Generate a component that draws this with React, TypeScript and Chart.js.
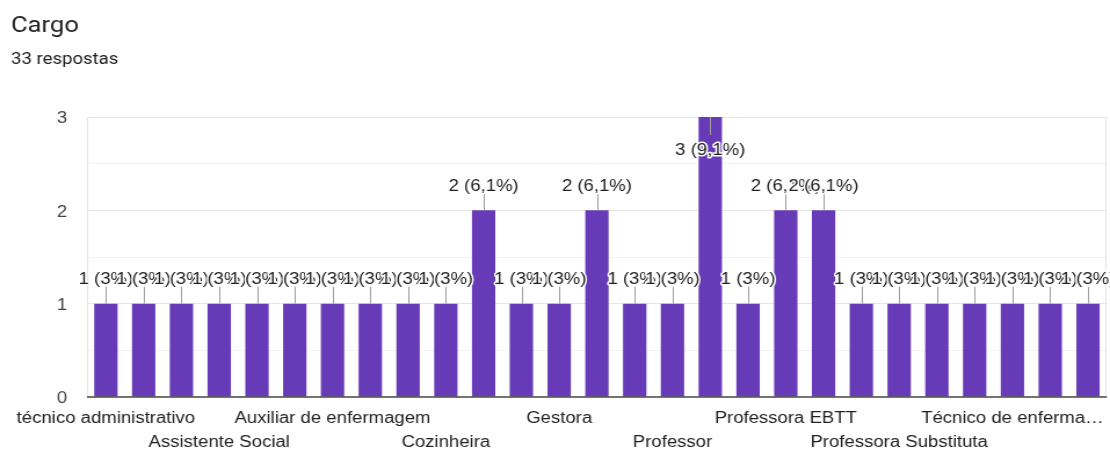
import React, { useEffect, useRef } from 'react';
import { Chart, registerables } from 'chart.js';

Chart.register(...registerables);

const titleText = 'Cargo';
const subtitleText = '33 respostas';

const categories = [
  'técnico administrativo',
  'Administrador',
  'Assistente em Administração',
  'Assistente Social',
  'Auxiliar Administrativo',
  'Auxiliar de Biblioteca',
  'Auxiliar de enfermagem',
  'Bibliotecária',
  'Coordenador',
  'Cozinheira',
  'Docente',
  'Enfermeira',
  'Gestora',
  'Nutricionista',
  'Pedagoga',
  'Professor',
  'Professora',
  'Professora de Educação Infantil',
  'Professora EBTT',
  'Professora Efetiva',
  'Professora Ensino Médio',
  'Professora Substituta',
  'Psicóloga',
  'Secretária',
  'Técnico de enfermagem',
  'Técnico em Assuntos Educacionais',
  'Tradutor e Intérprete de Libras',
];

const values = [1, 1, 1, 1, 1, 1, 1, 1, 1, 1, 2, 1, 1, 2, 1, 1, 3, 1, 2, 2, 1, 1, 1, 1, 1, 1, 1];

const xTickLabels = [
  'técnico administrativo', '', '',
  'Assistente Social', '', '',
  'Auxiliar de enfermagem', '', '',
  'Cozinheira', '', '',
  'Gestora', '', '',
  'Professor', '', '',
  'Professora EBTT', '', '',
  'Professora Substituta', '', '',
  'Técnico de enferma…', '', '',
];

const yTickValues = [0, 1, 2, 3];

const STRETCH = 1.16;
const OUT_W = 1110;
const OUT_H = 449;
const IN_W = Math.round(OUT_W / STRETCH);

const total = values.reduce((s, v) => s + v, 0);
const fmtLabel = (v: number) => {
  const p = Math.round((v / total) * 1000) / 10;
  return `${v} (${String(p).replace('.', ',')}%)`;
};

const decorPlugin = {
  id: 'decor',
  beforeDraw(chart: any) {
    const { ctx } = chart;
    ctx.save();
    ctx.fillStyle = '#ffffff';
    ctx.fillRect(0, 0, chart.width, chart.height);
    ctx.fillStyle = '#202124';
    ctx.textAlign = 'left';
    ctx.textBaseline = 'alphabetic';
    ctx.font = '22px Roboto';
    ctx.fillText(titleText, 9.5, 32);
    ctx.font = '16px Roboto';
    ctx.fillText(subtitleText, 9.5, 64);
    ctx.restore();
  },
  beforeDatasetsDraw(chart: any) {
    const { ctx, chartArea: a } = chart;
    ctx.save();
    ctx.strokeStyle = '#e6e6e6';
    ctx.lineWidth = 1;
    ctx.beginPath();
    const l = Math.round(a.left) + 0.5;
    const r = Math.round(a.right) - 0.5;
    ctx.moveTo(l, a.top);
    ctx.lineTo(l, a.bottom);
    ctx.moveTo(r, a.top);
    ctx.lineTo(r, a.bottom);
    ctx.stroke();
    ctx.restore();
  },
  afterDatasetsDraw(chart: any) {
    const { ctx, chartArea: a } = chart;
    const y0 = chart.scales.y.getPixelForValue(0);
    ctx.save();
    ctx.strokeStyle = '#444';
    ctx.lineWidth = 1.5;
    ctx.beginPath();
    ctx.moveTo(a.left, y0);
    ctx.lineTo(a.right, y0);
    ctx.stroke();

    const meta = chart.getDatasetMeta(0);
    ctx.font = '16px Arial, "Liberation Sans"';
    ctx.textAlign = 'center';
    ctx.textBaseline = 'alphabetic';
    ctx.lineJoin = 'round';
    meta.data.forEach((bar: any, i: number) => {
      const x = bar.x;
      const top = bar.y;
      const text = fmtLabel(values[i]);
      const inside = top - 34 < a.top;
      let baseY: number;
      ctx.strokeStyle = '#9e9e9e';
      ctx.lineWidth = 1;
      ctx.beginPath();
      if (inside) {
        ctx.moveTo(Math.round(x) + 0.5, top);
        ctx.lineTo(Math.round(x) + 0.5, top + 18);
        baseY = top + 37.5;
      } else {
        ctx.moveTo(Math.round(x) + 0.5, top);
        ctx.lineTo(Math.round(x) + 0.5, top - 17);
        baseY = top - 19.5;
      }
      ctx.stroke();
      ctx.strokeStyle = '#ffffff';
      ctx.lineWidth = 3;
      ctx.strokeText(text, x, baseY);
      ctx.fillStyle = '#222222';
      ctx.fillText(text, x, baseY);
    });
    ctx.restore();
  },
};

export default function App() {
  const ref = useRef<HTMLCanvasElement>(null);

  useEffect(() => {
    const canvas = ref.current;
    if (!canvas) return;
    const chart = new Chart(canvas, {
      type: 'bar',
      data: {
        labels: categories,
        datasets: [
          {
            data: values,
            backgroundColor: '#673ab7',
            borderWidth: 0,
            barPercentage: 0.618,
            categoryPercentage: 1,
          },
        ],
      },
      options: {
        animation: false,
        responsive: false,
        devicePixelRatio: 1,
        layout: { padding: { left: 0, right: 2.7, top: 117, bottom: 0 } },
        plugins: {
          legend: { display: false },
          tooltip: { enabled: false },
          title: { display: false },
        },
        scales: {
          x: {
            grid: { display: false, drawTicks: false },
            border: { display: false },
            ticks: {
              autoSkip: false,
              maxRotation: 0,
              minRotation: 0,
              padding: 10,
              color: '#222222',
              font: { size: 16, family: 'Arial, "Liberation Sans"', lineHeight: 1.5 },
              callback: (_v: any, i: number) => {
                const lab = xTickLabels[i];
                if (!lab) return '';
                return Math.floor(i / 3) % 2 === 0 ? lab : ['', lab];
              },
            },
            afterFit: (scale: any) => {
              scale.height = 52;
            },
          },
          y: {
            min: 0,
            max: 3,
            grid: {
              drawTicks: false,
              color: (c: any) => {
                const v = c.tick ? c.tick.value : 0;
                if (v === 0) return 'rgba(0,0,0,0)';
                return Number.isInteger(v) ? '#e6e6e6' : '#f3f3f3';
              },
              lineWidth: 1,
            },
            border: { display: false },
            ticks: {
              stepSize: 0.5,
              padding: 17,
              color: '#444444',
              font: { size: 16, family: 'Arial, "Liberation Sans"', lineHeight: 0.25 },
              callback: (v: any) => (yTickValues.includes(Number(v)) ? ['', String(v)] : ''),
            },
            afterFit: (scale: any) => {
              scale.width = 75;
            },
          },
        },
      },
      plugins: [decorPlugin],
    });
    return () => chart.destroy();
  }, []);

  return (
    <canvas
      ref={ref}
      width={IN_W}
      height={OUT_H}
      style={{ position: 'absolute', left: 0, top: 0, width: OUT_W + 'px', height: OUT_H + 'px' }}
    />
  );
}
